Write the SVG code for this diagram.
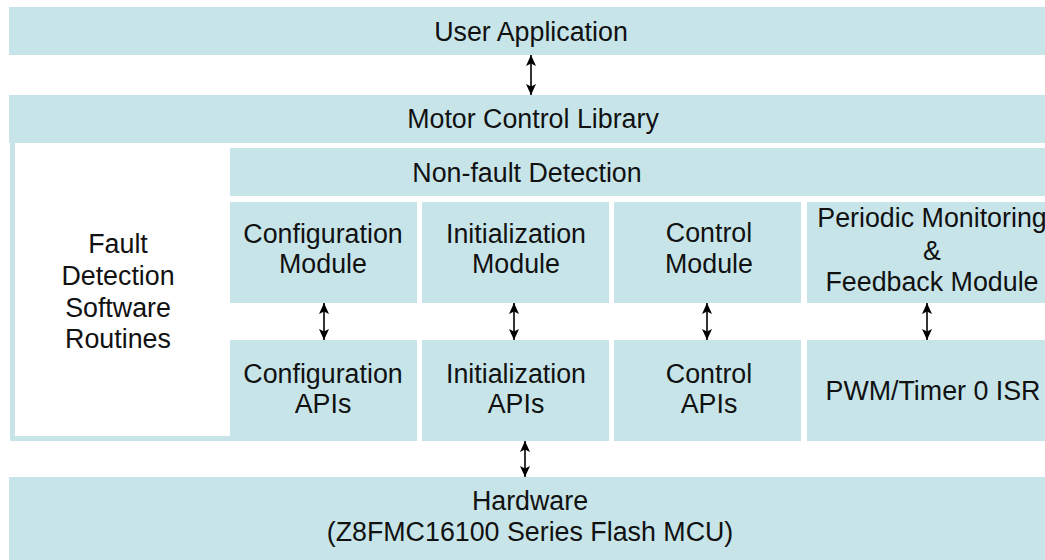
<svg xmlns="http://www.w3.org/2000/svg" width="1045" height="560" viewBox="0 0 1045 560">
<defs>
<style>
.box{fill:#C7E5E9;}
.t{font-family:"Liberation Sans",Arial,sans-serif;font-size:26.8px;fill:#111;text-anchor:middle;}
.c{stroke:#000;stroke-width:1.6;fill:none;marker-start:url(#ah);marker-end:url(#ah);}
</style>
<marker id="ah" viewBox="0 0 11 11" refX="11" refY="5.5" markerWidth="11" markerHeight="11" markerUnits="userSpaceOnUse" orient="auto-start-reverse">
<path d="M0,0.5 L11,5.5 L0,10.5 L2.5,5.5 Z" fill="#000"/>
</marker>
</defs>
<rect width="1045" height="560" fill="#fff"/>
<g id="user-application">
<rect class="box" x="9" y="7" width="1036" height="48"/>
<text class="t" x="531" y="41">User Application</text>
</g>
<g id="motor-control-library">
<rect class="box" x="9" y="95" width="1036" height="48"/>
<text class="t" x="533" y="128">Motor Control Library</text>
</g>
<g id="fault-detection">
<rect class="box" x="10" y="143" width="220" height="298"/>
<rect x="15" y="143" width="215" height="293" fill="#fff"/>
<text class="t" x="118" y="253">Fault</text>
<text class="t" x="118" y="285">Detection</text>
<text class="t" x="118" y="317">Software</text>
<text class="t" x="118" y="348">Routines</text>
</g>
<g id="non-fault-detection">
<rect class="box" x="230" y="148" width="815" height="48"/>
<text class="t" x="527" y="182">Non-fault Detection</text>
</g>
<g id="configuration-module">
<rect class="box" x="230" y="202" width="187" height="101"/>
<text class="t" x="323" y="243">Configuration</text>
<text class="t" x="323" y="273">Module</text>
</g>
<g id="initialization-module">
<rect class="box" x="422" y="202" width="187" height="101"/>
<text class="t" x="516" y="243">Initialization</text>
<text class="t" x="516" y="273">Module</text>
</g>
<g id="control-module">
<rect class="box" x="614" y="202" width="187" height="101"/>
<text class="t" x="709" y="242">Control</text>
<text class="t" x="709" y="273">Module</text>
</g>
<g id="periodic-monitoring-module">
<rect class="box" x="807" y="202" width="238" height="101"/>
<text class="t" x="932" y="227">Periodic Monitoring</text>
<text class="t" x="932" y="260">&amp;</text>
<text class="t" x="932" y="291">Feedback Module</text>
</g>
<g id="configuration-apis">
<rect class="box" x="230" y="340" width="187" height="101"/>
<text class="t" x="323" y="383">Configuration</text>
<text class="t" x="323" y="413">APIs</text>
</g>
<g id="initialization-apis">
<rect class="box" x="422" y="340" width="187" height="101"/>
<text class="t" x="516" y="383">Initialization</text>
<text class="t" x="516" y="413">APIs</text>
</g>
<g id="control-apis">
<rect class="box" x="614" y="340" width="187" height="101"/>
<text class="t" x="709" y="383">Control</text>
<text class="t" x="709" y="413">APIs</text>
</g>
<g id="pwm-timer-isr">
<rect class="box" x="807" y="340" width="238" height="101"/>
<text class="t" x="933" y="400">PWM/Timer 0 ISR</text>
</g>
<g id="hardware">
<rect class="box" x="9" y="477" width="1036" height="83"/>
<text class="t" x="530" y="510">Hardware</text>
<text class="t" x="530" y="541">(Z8FMC16100 Series Flash MCU)</text>
</g>
<g id="connectors">
<line class="c" x1="531" y1="55" x2="531" y2="95"/>
<line class="c" x1="324" y1="303" x2="324" y2="340"/>
<line class="c" x1="514" y1="303" x2="514" y2="340"/>
<line class="c" x1="707" y1="303" x2="707" y2="340"/>
<line class="c" x1="927" y1="303" x2="927" y2="340"/>
<line class="c" x1="525" y1="441" x2="525" y2="477"/>
</g>
</svg>
